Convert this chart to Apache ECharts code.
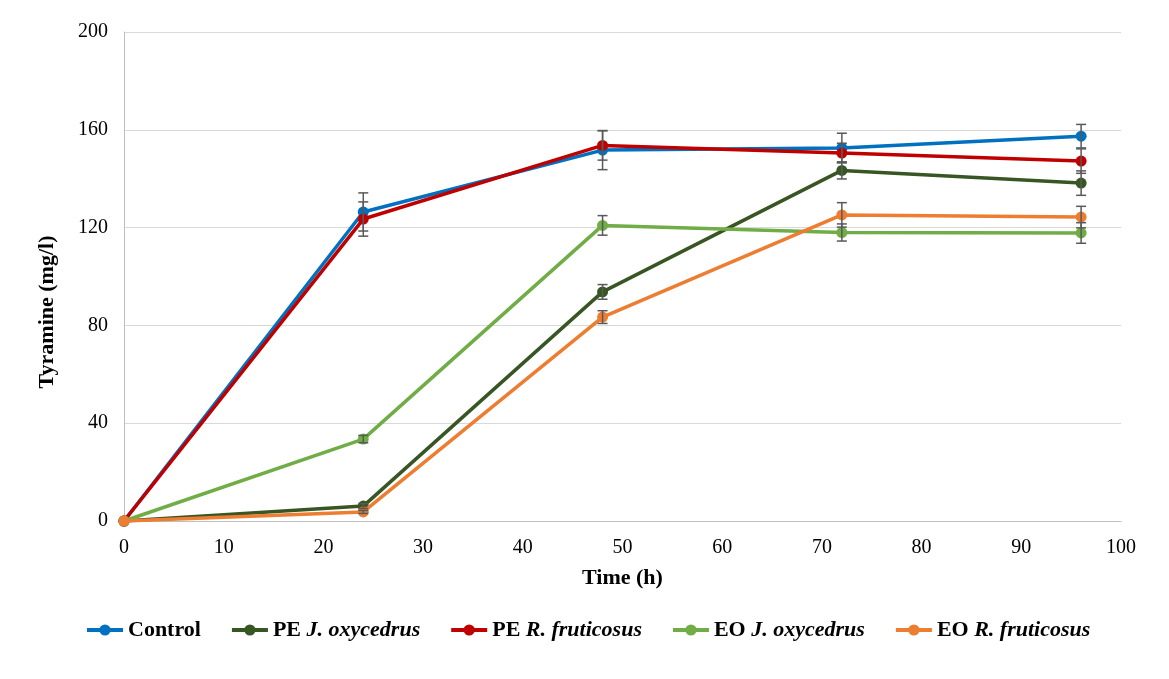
<!DOCTYPE html>
<html>
<head>
    <meta charset="utf-8">
    <title>Tyramine</title>
    <style>
        html, body { margin: 0; padding: 0; background: #fff; }
        #chart { width: 1169px; height: 679px; }
    </style>
</head>
<body>
    <div id="chart"></div>
    <script src="https://cdn.jsdelivr.net/npm/echarts@6/dist/echarts.min.js"></script>
    <script>
    var TIMES = [0, 24, 48, 72, 96];
    var NAMES = ['Control', 'PE J. oxycedrus', 'PE R. fruticosus', 'EO J. oxycedrus', 'EO R. fruticosus'];
    var COLORS = ['#0070C0', '#375623', '#C00000', '#70AD47', '#ED7D31'];

    var CONTROL = [0, 126.4, 151.7, 152.6, 157.4];
    var PE_JO = [0, 6.1, 93.7, 143.4, 138.2];
    var PE_RF = [0, 123.5, 153.6, 150.5, 147.2];
    var EO_JO = [0, 33.5, 120.9, 118.0, 117.8];
    var EO_RF = [0, 3.7, 83.4, 125.2, 124.3];

    var ERR_CONTROL = [0, 7.8, 8.0, 6.0, 4.8];
    var ERR_PE_JO = [0, 1.0, 3.0, 3.5, 5.0];
    var ERR_PE_RF = [0, 7.0, 6.0, 4.0, 5.0];
    var ERR_EO_JO = [0, 1.5, 4.0, 3.5, 4.2];
    var ERR_EO_RF = [0, 0.6, 2.6, 5.0, 4.4];

    var VALUES = [CONTROL, PE_JO, PE_RF, EO_JO, EO_RF];
    var ERRORS = [ERR_CONTROL, ERR_PE_JO, ERR_PE_RF, ERR_EO_JO, ERR_EO_RF];

    var myChart = echarts.init(document.getElementById('chart'));
    var font = '"Liberation Serif", "Times New Roman", serif';

    function pairs(vals) {
        return TIMES.map(function(t, i) { return [t, vals[i]]; });
    }

    // vertical error bar with caps
    function errItem(params, api) {
        var x = api.value(0), y = api.value(1), e = api.value(2);
        if (!e) return;
        var top = api.coord([x, y + e]);
        var bot = api.coord([x, y - e]);
        var w = 5;
        var style = { stroke: '#595959', lineWidth: 1.5 };
        return {
            type: 'group',
            children: [
                { type: 'line', shape: { x1: top[0], y1: top[1], x2: bot[0], y2: bot[1] }, style: style },
                { type: 'line', shape: { x1: top[0] - w, y1: top[1], x2: top[0] + w, y2: top[1] }, style: style },
                { type: 'line', shape: { x1: bot[0] - w, y1: bot[1], x2: bot[0] + w, y2: bot[1] }, style: style }
            ]
        };
    }

    var series = [];
    NAMES.forEach(function(name, k) {
        series.push({
            name: name,
            type: 'line',
            data: pairs(VALUES[k]),
            symbol: 'circle',
            symbolSize: 11,
            color: COLORS[k],
            lineStyle: { width: 3.5, color: COLORS[k] },
            itemStyle: { color: COLORS[k] },
            z: 2 + k,
            animation: false
        });
    });
    NAMES.forEach(function(name, k) {
        series.push({
            type: 'custom',
            renderItem: errItem,
            data: TIMES.map(function(t, i) { return [t, VALUES[k][i], ERRORS[k][i]]; }),
            z: 10,
            silent: true,
            animation: false
        });
    });

    var rich = {
        n: { fontFamily: font, fontWeight: 'bold', fontSize: 22, color: '#000' },
        i: { fontFamily: font, fontWeight: 'bold', fontStyle: 'italic', fontSize: 22, color: '#000' }
    };

    var options = {
        backgroundColor: '#fff',
        animation: false,
        grid: { left: 124, right: 48, top: 32, bottom: 158 },
        legend: {
            data: NAMES,
            bottom: 33,
            left: 80,
            itemWidth: 36,
            itemHeight: 14,
            itemGap: 29,
            lineStyle: { width: 4 },
            textStyle: { rich: rich },
            formatter: function(name) {
                if (name === 'Control') return '{n|Control}';
                var parts = name.split(' ');
                return '{n|' + parts[0] + ' }{i|' + parts.slice(1).join(' ') + '}';
            }
        },
        graphic: [{
            type: 'text',
            x: 47,
            y: 312,
            rotation: Math.PI / 2,
            style: {
                text: 'Tyramine (mg/l)',
                font: 'bold 22px ' + font,
                fill: '#000',
                textAlign: 'center',
                textVerticalAlign: 'middle'
            }
        }],
        xAxis: {
            type: 'value',
            min: 0,
            max: 100,
            interval: 10,
            name: 'Time (h)',
            nameLocation: 'middle',
            nameGap: 46,
            nameTextStyle: { fontFamily: font, fontWeight: 'bold', fontSize: 22, color: '#000' },
            axisLine: { show: true, lineStyle: { color: '#bfbfbf', width: 1 } },
            axisTick: { show: false },
            axisLabel: { fontFamily: font, fontSize: 20, color: '#000', margin: 17 },
            splitLine: { show: false }
        },
        yAxis: {
            type: 'value',
            min: 0,
            max: 200,
            interval: 40,
            axisLine: { show: true, lineStyle: { color: '#bfbfbf', width: 1 } },
            axisTick: { show: false },
            axisLabel: { fontFamily: font, fontSize: 20, color: '#000', margin: 16 },
            splitLine: { show: true, lineStyle: { color: '#d9d9d9', width: 1 } }
        },
        series: series
    };
    myChart.setOption(options);
    </script>
</body>
</html>
